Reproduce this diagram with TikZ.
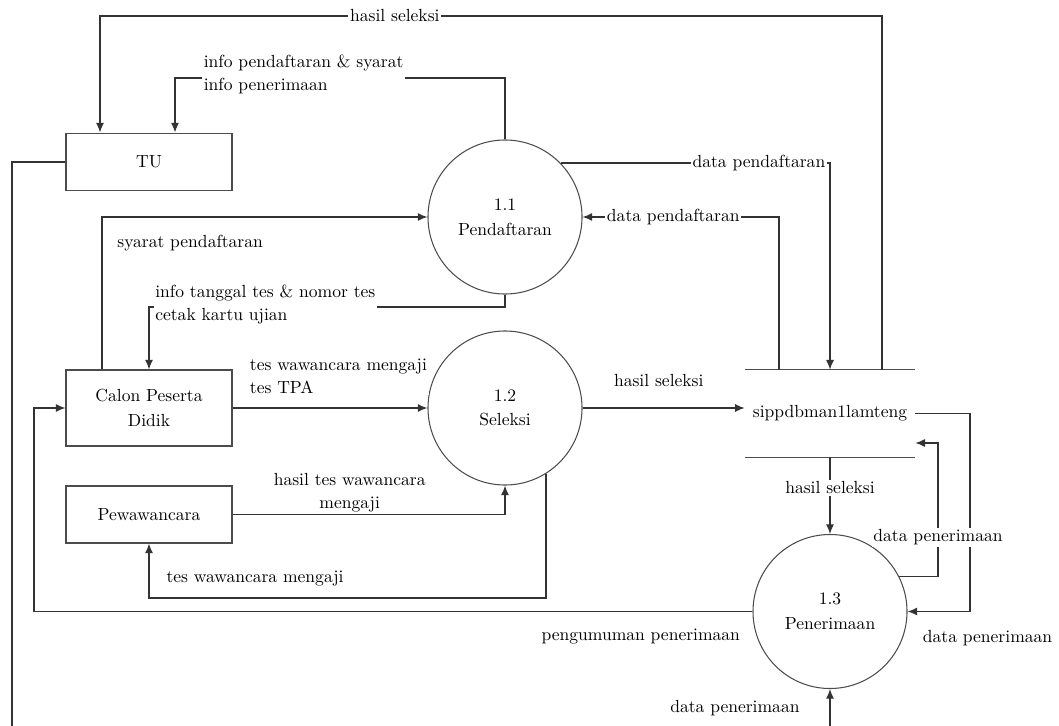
\documentclass[tikz,border=0pt]{standalone}
\usepackage{tikz}
\usetikzlibrary{shapes, arrows, arrows.meta, calc, positioning}

\begin{document}
\begin{tikzpicture}[x=0.57pt, y=-0.57pt]
    % Styles
    \tikzstyle{extent} = [rectangle, draw=black!70, line width=0.6pt, minimum width=94.6pt, minimum height=33pt, align=center, font=\fontsize{10}{14}\selectfont]
    \tikzstyle{proc} = [circle, draw=black!70, line width=0.6pt, minimum size=87.8pt, inner sep=0pt, align=center, font=\fontsize{10}{14}\selectfont]
    \tikzstyle{dstore} = [rectangle, minimum width=96.9pt, minimum height=49.6pt, font=\fontsize{10}{14}\selectfont]
    \tikzstyle{flow} = [draw, -{Latex[length=5.5pt, width=4.6pt]}, line width=0.75pt, black!80]
    \tikzstyle{flowlabel} = [fill=white, inner sep=1pt, align=left, text=black, font=\fontsize{10}{13}\selectfont]

    \useasboundingbox (0,0) rectangle (1059,725);

    % Nodes
    \node [extent] (tu) at (149,162) {TU};
    \node [extent, minimum height=43.3pt] (calon) at (149,408) {Calon Peserta\\Didik};
    \node [extent, minimum height=32.5pt] (pew) at (149,514.5) {Pewawancara};
    \node [proc] (p1) at (505,217) {1.1\\Pendaftaran};
    \node [proc] (p2) at (505,408) {1.2\\Seleksi};
    \node [proc] (p3) at (830,611.5) {1.3\\Penerimaan};
    \node [dstore] (db) at (830,413.5) {sippdbman1lamteng};
    \draw [line width=0.6pt, black!70] (db.north west) -- (db.north east) (db.south west) -- (db.south east);

    % Flows: TU
    \draw [flow] (db.north -| 882,0) -- (882,16) -- node [flowlabel, pos=0.623] (lhs1) {hasil seleksi} (100,16) -- (tu.north -| 100,0);
    \draw [flow] (p1.north) -- (p1.north |- 0,78) -- node [flowlabel, pos=0.92, anchor=west, yshift=2pt] (linfo) {info pendaftaran \& syarat\\info penerimaan} (175,78) -- (tu.north -| 175,0);
    \draw [flow] (tu.west) -- (tu.west -| 12,0) -- (12,760) -- (830,760) -- node [flowlabel, pos=0.733, left=16pt] (ldpr3) {data penerimaan} (p3.south);

    % Flows: Calon Peserta Didik
    \draw [flow] (calon.north -| 102,0) |- node [flowlabel, pos=0.52, anchor=west, yshift=-15pt] (lsyarat) {syarat pendaftaran} (p1.west);
    \draw [flow] (p1.south) -- (p1.south |- 0,307) -- node [flowlabel, pos=0.989, anchor=west, yshift=1.5pt] (ltgl) {info tanggal tes \& nomor tes\\cetak kartu ujian} (calon.north |- 0,307) -- (calon.north);
    \draw [flow] (calon.east) -- node [flowlabel, pos=0.077, anchor=south west, yshift=7pt] (ltes) {tes wawancara mengaji\\tes TPA} (p2.west);
    \draw [flow] (p3.west) -- node [flowlabel, pos=0.014, anchor=east, yshift=-14pt] (lumum) {pengumuman penerimaan} (p3.west -| 34,0) -- (calon.west -| 34,0) -- (calon.west);

    % Flows: Pewawancara
    \draw [flow] (pew.east) -| node [flowlabel, pos=0.215, anchor=south, align=center] (lhasiltes) {hasil tes wawancara\\mengaji} (p2.south);
    \draw [flow] (p2.-58) -- (p2.-58 |- 0,598) -- node [flowlabel, pos=0.962, anchor=south west, yshift=5.5pt] (lwaw) {tes wawancara mengaji} (pew.south |- 0,598) -- (pew.south);

    % Flows: data store
    \draw [flow] (p2.east) -- node [flowlabel, pos=0.47, above=11pt] (lhs2) {hasil seleksi} (p2.east -| db.west);
    \draw [flow] (p1.44) -| node [flowlabel, pos=0.368] (ldp1) {data pendaftaran} (db.north);
    \draw [flow] (db.north -| 779,0) |- node [flowlabel, pos=0.769] (ldp2) {data pendaftaran} (p1.east);
    \draw [flow] (db.south) -- node [flowlabel, pos=0.4] (lhs3) {hasil seleksi} (p3.north);
    \draw [flow] (db.east) -- (db.east -| 970,0) -- (p3.east -| 970,0) -- node [flowlabel, pos=0, xshift=10pt, yshift=-14.9pt] (ldpr2) {data penerimaan} (p3.east);
    \draw [flow] (p3.27) -| node [flowlabel, pos=0.647] (ldpr1) {data penerimaan} (938,443) -- (db.east |- 0,443);

\end{tikzpicture}
\end{document}
